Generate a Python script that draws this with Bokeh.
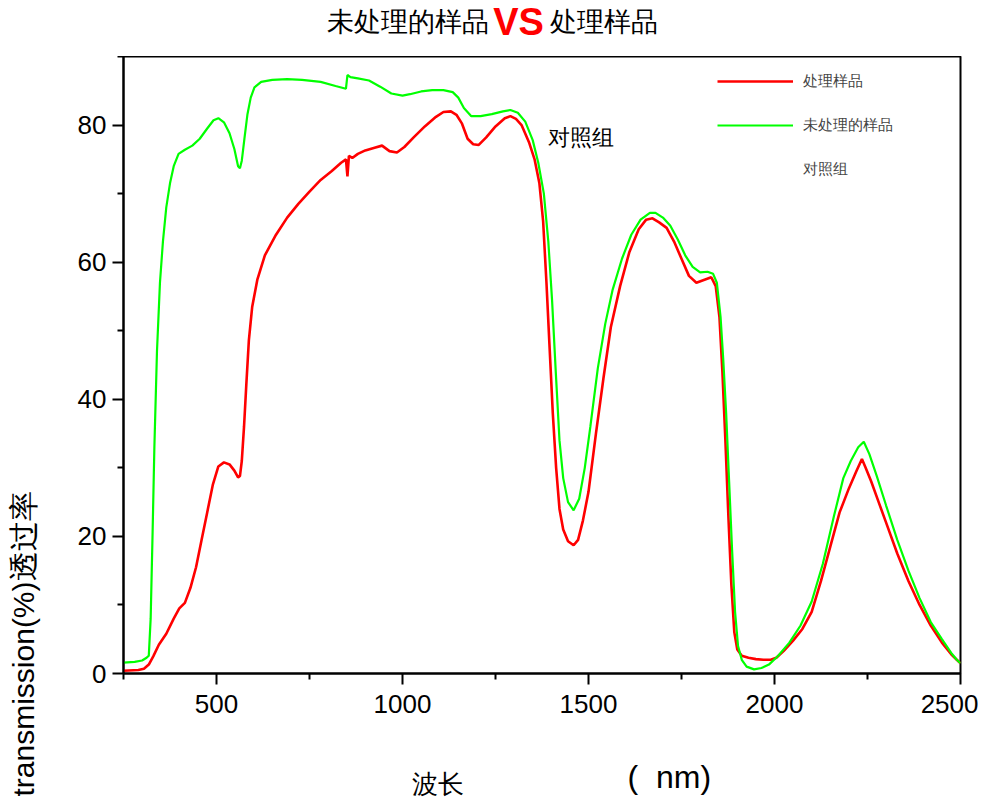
import math
from bokeh.plotting import figure
from bokeh.models import Range1d, FixedTicker, Label, Legend, LegendItem
from bokeh.layouts import row, column
from bokeh.embed import file_html
from bokeh.resources import INLINE

# ---------------- data ----------------
title_left = "未处理的样品"
title_vs = "VS"
title_right = "处理样品"
red_name = "处理样品"
green_name = "未处理的样品"
third_name = "对照组"
x_label_cn = "波长"
x_label_unit = "(\u00a0\u00a0nm)"
y_label = "transmission(%)透过率"

x_major = [500, 1000, 1500, 2000, 2500]
x_minor = [250, 750, 1250, 1750, 2250]
y_major = [0, 20, 40, 60, 80]
y_minor = [10, 30, 50, 70, 90]

green_wl = [250, 280, 300, 312, 318, 323, 328, 333, 340, 348, 356, 365, 375, 385, 398,
            415, 435, 455, 475, 492, 505, 520, 535, 548, 558, 563, 568, 575, 583, 592,
            602, 620, 650, 690, 730, 780, 820, 848, 852, 860, 880, 910, 940, 970, 1000,
            1020, 1050, 1080, 1110, 1135, 1150, 1165, 1185, 1210, 1240, 1270, 1290, 1310,
            1330, 1350, 1365, 1380, 1392, 1402, 1412, 1422, 1432, 1445, 1460, 1475, 1490,
            1505, 1525, 1545, 1565, 1590, 1615, 1640, 1665, 1680, 1700, 1720, 1740, 1760,
            1780, 1800, 1820, 1835, 1845, 1855, 1862, 1870, 1878, 1886, 1894, 1902, 1912,
            1925, 1945, 1965, 1985, 2010, 2040, 2070, 2100, 2130, 2160, 2185, 2205, 2225,
            2240, 2255, 2275, 2300, 2330, 2360, 2390, 2420, 2450, 2475, 2490, 2500]
green_t = [1.6, 1.7, 1.9, 2.3, 2.6, 8, 20, 33, 47, 57, 63, 68, 71.5, 74, 75.8,
           76.4, 77, 78, 79.5, 80.7, 81, 80.4, 78.8, 76.5, 74, 73.7, 74.8, 78, 81.5, 84,
           85.5, 86.3, 86.6, 86.7, 86.6, 86.3, 85.7, 85.3, 87.3, 87.0, 86.8, 86.5, 85.6, 84.6, 84.3,
           84.5, 84.9, 85.1, 85.1, 84.8, 84, 82.5, 81.3, 81.3, 81.6, 82, 82.2, 81.8,
           80.5, 77.8, 74.5, 70, 63, 54.5, 44, 34, 28.5, 25, 23.8, 25.5, 30,
           36, 44.5, 51, 56, 60.5, 64, 66.2, 67.2, 67.2, 66.5, 65.3, 63.3, 61,
           59.3, 58.5, 58.6, 58.3, 57, 52, 46, 38, 28, 18, 9, 4, 2,
           1.0, 0.6, 0.8, 1.3, 2.6, 4.5, 7, 10.5, 16, 23, 28.5, 31, 33,
           33.8, 32, 28.8, 24.5, 19.5, 15, 11, 7.5, 5, 3, 2.0, 1.5]

red_wl = [250, 290, 305, 318, 330, 345, 365, 385, 400, 415, 430, 445, 460, 475, 490,
          505, 520, 535, 548, 558, 563, 568, 574, 580, 587, 596, 610, 630, 660, 690,
          720, 750, 780, 810, 835, 848, 852, 856, 865, 880, 900, 925, 945, 965, 985,
          1005, 1030, 1060, 1090, 1110, 1130, 1145, 1160, 1175, 1190, 1205, 1225, 1250,
          1275, 1290, 1305, 1320, 1340, 1355, 1368, 1378, 1387, 1395, 1404, 1413, 1422,
          1432, 1445, 1460, 1472, 1485, 1500, 1520, 1540, 1560, 1585, 1610, 1635, 1655,
          1672, 1690, 1710, 1730, 1750, 1770, 1790, 1810, 1830, 1842, 1852, 1860, 1868,
          1876, 1884, 1892, 1900, 1912, 1930, 1950, 1970, 1990, 2005, 2025, 2050, 2075,
          2100, 2125, 2150, 2175, 2200, 2220, 2235, 2245, 2260, 2280, 2300, 2330, 2360,
          2390, 2420, 2450, 2475, 2490, 2500]
red_t = [0.4, 0.5, 0.7, 1.3, 2.5, 4.2, 5.8, 8, 9.5, 10.3, 12.5, 15.5, 19.5, 23.5, 27.5,
         30.2, 30.8, 30.5, 29.6, 28.6, 28.8, 31, 36, 42, 48.6, 53.5, 57.5, 61, 64, 66.5,
         68.5, 70.3, 72, 73.3, 74.5, 75, 72.5, 75.5, 75.2, 75.8, 76.3, 76.7, 77, 76.2, 76,
         76.8, 78.2, 79.8, 81.2, 81.9, 82, 81.5, 80.2, 78, 77.2, 77.1, 78.2, 79.8,
         81, 81.3, 80.9, 80, 77.5, 75, 71.5, 66, 57, 48, 38, 30, 24,
         21, 19.3, 18.7, 19.5, 22.3, 26.5, 35, 43, 50.5, 56.5, 61.5, 64.8, 66.2,
         66.4, 65.8, 65, 63, 60.5, 58, 57, 57.4, 57.8, 56.5, 52, 44, 34,
         23, 13, 6, 3.5, 2.6, 2.3, 2.1, 2.0, 2.0, 2.3, 3.3, 4.8, 6.5,
         9, 13.5, 18.5, 23.5, 27, 29.5, 31.3, 30, 28, 25, 22, 17.5, 13.5,
         10, 7, 4.5, 2.8, 2.0, 1.5]

FONT = "Liberation Sans"

# layout sizes (pixels)
LEFT_W = 45
TOP_H = 56
MAIN_W = 933
MAIN_H = 671
BOTTOM_H = 73
TOTAL_H = TOP_H + MAIN_H + BOTTOM_H
FRAME_L, FRAME_R = 123, 960   # picture x of the plot frame (strips align to it)


def blank_fig(w, h, xr, yr):
    f = figure(width=w, height=h, x_range=xr, y_range=yr,
               x_axis_type=None, y_axis_type=None, output_backend="svg",
               toolbar_location=None, min_border=0,
               min_border_left=0, min_border_right=0, min_border_top=0, min_border_bottom=0,
               background_fill_color="white", border_fill_color="white")
    f.outline_line_color = None
    f.xgrid.visible = False
    f.ygrid.visible = False
    return f


# ---------------- main plot ----------------
p = figure(width=MAIN_W, height=MAIN_H,
           x_range=Range1d(250, 2500), y_range=Range1d(0, 90),
           output_backend="svg", toolbar_location=None,
           min_border_left=FRAME_L - LEFT_W, min_border_right=LEFT_W + MAIN_W - FRAME_R,
           min_border_top=0, min_border_bottom=MAIN_H - 617,
           background_fill_color="white", border_fill_color="white")
p.xgrid.visible = False
p.ygrid.visible = False
p.outline_line_color = "black"
p.outline_line_width = 2

for ax, maj, mnr in ((p.xaxis[0], x_major, x_minor), (p.yaxis[0], y_major, y_minor)):
    ax.ticker = FixedTicker(ticks=maj, minor_ticks=mnr)
    ax.axis_line_width = 2
    ax.major_tick_line_width = 2
    ax.minor_tick_line_width = 2
    ax.major_tick_in = 0
    ax.major_tick_out = 11
    ax.minor_tick_in = 0
    ax.minor_tick_out = 6
    ax.major_label_text_font = FONT
    ax.major_label_text_font_size = "26px"
    ax.major_label_text_color = "black"
p.xaxis[0].major_label_standoff = 10
p.yaxis[0].major_label_standoff = 6

r_red = p.line(red_wl, red_t, line_color="#ff0000", line_width=2.6)
r_green = p.line(green_wl, green_t, line_color="#00ff00", line_width=2.2)
r_blank = p.line(red_wl, red_t, line_alpha=0)

legend = Legend(items=[LegendItem(label=red_name, renderers=[r_red]),
                       LegendItem(label=green_name, renderers=[r_green]),
                       LegendItem(label=third_name, renderers=[r_blank])],
                location=(594, 494), padding=0, margin=0, spacing=24,
                glyph_width=76, glyph_height=20, label_height=20, label_standoff=10,
                label_text_font=FONT, label_text_font_size="15px",
                border_line_alpha=0, background_fill_alpha=0)
p.add_layout(legend)

p.add_layout(Label(x=1392, y=78.2, text=third_name, text_align="left",
                   text_baseline="middle", text_font=FONT, text_font_size="22px",
                   text_color="black"))

# ---------------- title strip (coordinates = picture pixels) ----------------
top = blank_fig(MAIN_W, TOP_H, Range1d(FRAME_L, FRAME_R), Range1d(TOP_H, 0))
top.add_layout(Label(x=488, y=21, text=title_left, text_align="right",
                     text_baseline="middle", text_font=FONT, text_font_size="27px",
                     text_color="black"))
top.add_layout(Label(x=518, y=21, text=title_vs, text_align="center",
                     text_baseline="middle", text_font=FONT, text_font_size="38px",
                     text_font_style="bold", text_color="#ff0000"))
top.add_layout(Label(x=549, y=21, text=title_right, text_align="left",
                     text_baseline="middle", text_font=FONT, text_font_size="27px",
                     text_color="black"))

# ---------------- x-label strip (coordinates = picture pixels) ----------------
y0 = TOP_H + MAIN_H
bottom = blank_fig(MAIN_W, BOTTOM_H, Range1d(FRAME_L, FRAME_R), Range1d(TOTAL_H, y0))
bottom.add_layout(Label(x=437, y=783, text=x_label_cn, text_align="center",
                        text_baseline="middle", text_font=FONT, text_font_size="26px",
                        text_color="black"))
bottom.add_layout(Label(x=627, y=776, text=x_label_unit, text_align="left",
                        text_baseline="middle", text_font=FONT, text_font_size="32px",
                        text_color="black"))

# ---------------- y-label strip (coordinates = picture pixels) ----------------
left = blank_fig(LEFT_W, TOTAL_H, Range1d(0, LEFT_W), Range1d(TOTAL_H, 0))
left.add_layout(Label(x=23, y=796, text=y_label, angle=math.pi / 2,
                      text_align="left", text_baseline="middle", text_font=FONT,
                      text_font_size="30px", text_color="black"))

layout = row(left, column(top, p, bottom, spacing=0), spacing=0)

open("out.html", "w").write(file_html(layout, INLINE))
